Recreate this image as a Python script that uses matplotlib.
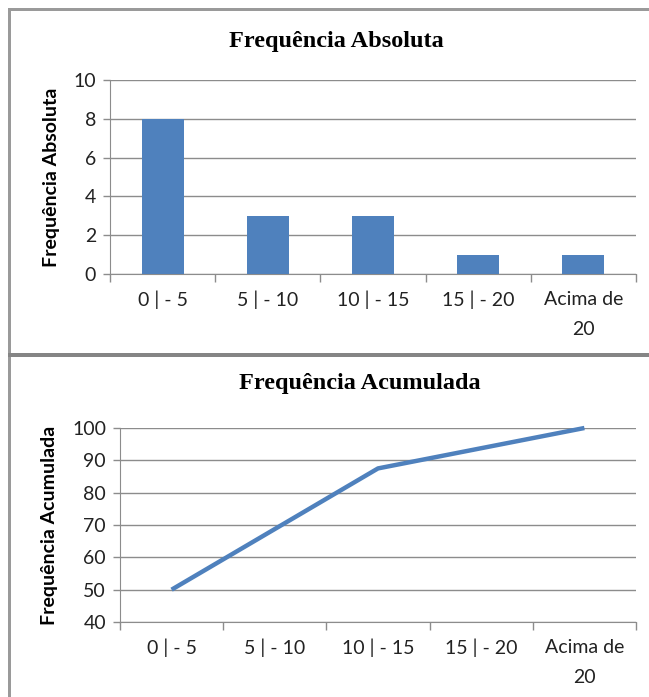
import matplotlib.pyplot as plt
from matplotlib.patches import Rectangle
import numpy as np

categorias = ["0 | - 5", "5 | - 10", "10 | - 15", "15 | - 20", "Acima de\n20"]
freq_absoluta = [8, 3, 3, 1, 1]
freq_acumulada = [50, 68.75, 87.5, 93.75, 100]

AZUL = "#4F81BD"
GRADE = "#8C8C8C"
W, H = 649, 697

fig = plt.figure(figsize=(W / 100, H / 100), dpi=100)
fig.patch.set_facecolor("white")

tick_font = {"family": "Lato", "size": 14, "color": "#222222"}
title_font = {"family": "Liberation Serif", "weight": "bold", "size": 17.5}
ylabel_font = {"family": "Lato", "weight": "bold", "size": 14}


def px_axes(left, right, top, bottom):
    return fig.add_axes([left / W, 1 - bottom / H, (right - left) / W, (bottom - top) / H])


def estilo(ax, ymin, ymax, step, left_px, width_px, label, label_x_px):
    n = len(categorias)
    ax.set_xlim(0, n)
    ax.set_ylim(ymin, ymax)
    ax.set_yticks(np.arange(ymin, ymax + step / 2, step))
    ax.set_xticks(np.arange(0, n + 1))
    ax.set_xticklabels([])
    ax.set_xticks(np.arange(n) + 0.5, minor=True)
    ax.set_xticklabels(categorias, minor=True, linespacing=1.95, **tick_font)
    ax.tick_params(axis="x", which="minor", length=0, pad=12)
    ax.tick_params(axis="x", which="major", length=6, width=1, color=GRADE, direction="out")
    ax.tick_params(axis="y", length=5, width=1, color=GRADE, direction="out", pad=5)
    for lbl in ax.get_yticklabels():
        lbl.set_fontfamily("Lato")
        lbl.set_fontsize(14)
        lbl.set_color("#222222")
    ax.grid(axis="y", color=GRADE, linewidth=1)
    ax.set_axisbelow(True)
    for s in ("top", "right"):
        ax.spines[s].set_visible(False)
    ax.spines["left"].set_color(GRADE)
    ax.spines["bottom"].set_color(GRADE)
    ax.set_ylabel(label, fontdict=ylabel_font)
    ax.yaxis.set_label_coords((label_x_px - left_px) / width_px, 0.5)


x = np.arange(len(categorias)) + 0.5

# Gráfico de barras: frequência absoluta
ax1 = px_axes(110, 636, 80, 274)
ax1.bar(x, freq_absoluta, width=0.4, color=AZUL, zorder=3)
estilo(ax1, 0, 10, 2, 110, 526, "Frequência Absoluta", 60)
fig.text(336 / W, 1 - 42 / H, "Frequência Absoluta", ha="center", va="center", **title_font)

# Gráfico de linha: frequência acumulada
ax2 = px_axes(120, 636, 428, 622)
ax2.plot(x, freq_acumulada, color=AZUL, linewidth=3.2, solid_joinstyle="round",
         solid_capstyle="butt", zorder=3, clip_on=False)
estilo(ax2, 40, 100, 10, 120, 516, "Frequência Acumulada", 58)
fig.text(360 / W, 1 - 384 / H, "Frequência Acumulada", ha="center", va="center", **title_font)


# Molduras dos gráficos (faixas finas em pixels)
def faixa(x0, y0, x1, y1, cor):
    fig.add_artist(Rectangle((x0 / W, 1 - y1 / H), (x1 - x0) / W, (y1 - y0) / H,
                             facecolor=cor, edgecolor="none", linewidth=0,
                             transform=fig.transFigure))


faixa(8, 8, W, 10.5, "#9A9A9A")
faixa(8, 8, 10.5, H, "#9A9A9A")
faixa(8, 353, W, 357, "#858585")

fig.savefig("out.png", dpi=100, facecolor="white")
